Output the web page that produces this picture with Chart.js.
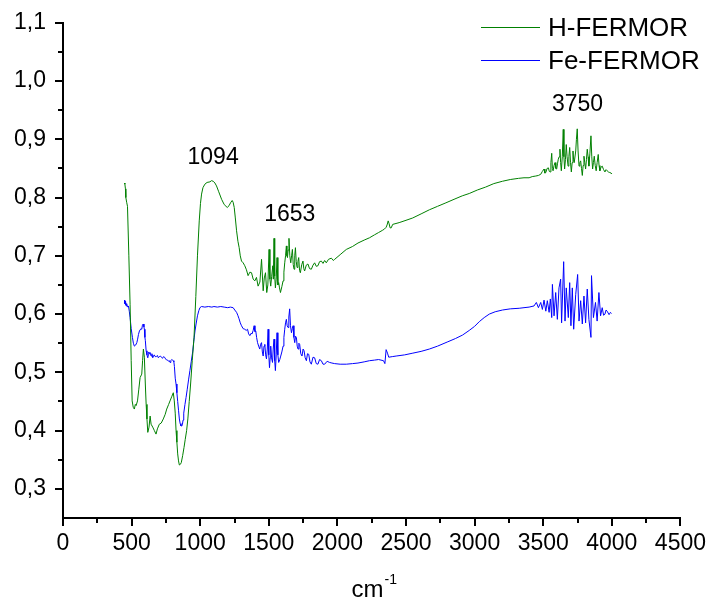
<!DOCTYPE html>
<html><head><meta charset="utf-8">
<script src="https://cdn.jsdelivr.net/npm/chart.js@4.4.1/dist/chart.umd.min.js"></script>
<style>html,body{margin:0;padding:0;background:#fff}#wrap{width:710px;height:604px}</style>
</head><body><div id="wrap"><canvas id="c" width="710" height="604"></canvas></div>
<script>
const seriesNames = ['H-FERMOR', 'Fe-FERMOR'];
const seriesColors = ['#008000', '#0000ff'];

// [wavenumber (cm-1), value]
const hFermor = [
[448,0.825],[451,0.823],[455,0.815],[458,0.800],[464,0.792],[470,0.785],[480,0.70],[489,0.617],[497,0.52],[504,0.451],[512,0.44],[520,0.437],[527,0.445],[533,0.443],[543,0.451],[552,0.47],[562,0.491],[574,0.497],[580,0.52],[586,0.54],[593,0.526],[600,0.48],[606,0.445],[612,0.42],[618,0.397],[627,0.406],[635,0.425],[642,0.411],[654,0.406],[666,0.40],[678,0.394],[688,0.403],[702,0.411],[716,0.413],[731,0.42],[745,0.428],[756,0.437],[770,0.445],[780,0.451],[792,0.458],[804,0.465],[811,0.451],[818,0.43],[824,0.40],[830,0.38],[836,0.36],[842,0.348],[848,0.341],[855,0.342],[862,0.345],[872,0.357],[882,0.371],[891,0.385],[901,0.40],[910,0.42],[920,0.45],[930,0.48],[942,0.52],[955,0.56],[968,0.63],[980,0.70],[993,0.76],[1002,0.79],[1010,0.806],[1020,0.817],[1034,0.823],[1050,0.826],[1071,0.827],[1082,0.829],[1095,0.828],[1107,0.825],[1119,0.82],[1135,0.81],[1156,0.797],[1175,0.788],[1197,0.783],[1210,0.786],[1221,0.791],[1233,0.795],[1240,0.792],[1248,0.783],[1256,0.765],[1265,0.743],[1275,0.725],[1284,0.714],[1292,0.70],[1301,0.691],[1313,0.688],
[1325,0.683],[1337,0.676],[1349,0.666],[1362,0.672],[1374,0.671],[1386,0.660],[1398,0.657],[1410,0.663],[1422,0.648],[1435,0.655],[1447,0.694],[1459,0.640],[1467,0.662],[1476,0.671],[1485,0.637],[1493,0.65],[1502,0.711],[1508,0.66],[1514,0.648],[1521,0.665],[1529,0.683],[1533,0.66],[1538,0.73],[1543,0.665],[1548,0.645],[1554,0.66],[1560,0.697],[1566,0.65],[1572,0.654],[1578,0.645],[1585,0.637],[1595,0.647],[1604,0.657],[1610,0.672],[1616,0.688],[1622,0.70],[1628,0.717],[1632,0.70],[1636,0.697],[1641,0.71],[1647,0.73],[1653,0.70],[1660,0.688],[1666,0.70],[1672,0.711],[1678,0.685],[1684,0.677],[1689,0.70],[1694,0.714],[1700,0.69],[1706,0.680],[1712,0.69],[1718,0.697],[1724,0.675],[1730,0.671],[1740,0.685],[1749,0.691],[1755,0.678],[1761,0.674],[1773,0.684],[1785,0.686],[1797,0.678],[1810,0.677],[1822,0.684],[1834,0.688],[1846,0.682],[1858,0.683],[1870,0.69],[1883,0.691],[1895,0.687],[1907,0.692],[1919,0.688],[1935,0.694],[1956,0.696],[1970,0.692],[1980,0.694],
[2020,0.702],[2065,0.711],[2110,0.716],[2150,0.722],[2195,0.727],[2234,0.731],[2270,0.736],[2300,0.740],[2330,0.744],[2343,0.746],[2355,0.749],[2362,0.753],[2370,0.76],[2377,0.755],[2384,0.748],[2392,0.748],[2403,0.754],[2450,0.757],[2500,0.761],[2549,0.765],[2610,0.772],[2670,0.779],[2730,0.785],[2791,0.791],[2850,0.797],[2910,0.803],[2961,0.807],[3020,0.813],[3080,0.818],[3140,0.824],[3203,0.828],[3260,0.831],[3320,0.833],[3360,0.834],[3397,0.834],[3420,0.836],[3446,0.837],[3465,0.838],[3482,0.840],[3494,0.845],[3506,0.849],[3512,0.842],[3519,0.843],[3528,0.85],[3538,0.851],[3544,0.845],[3550,0.844],[3556,0.86],[3562,0.876],[3567,0.85],[3572,0.846],[3579,0.855],[3586,0.860],[3592,0.85],[3598,0.849],[3604,0.858],[3610,0.866],[3616,0.87],[3622,0.883],[3627,0.86],[3632,0.846],[3639,0.87],[3646,0.917],[3651,0.87],[3656,0.849],[3662,0.865],[3668,0.891],[3674,0.87],[3681,0.854],[3687,0.87],[3693,0.886],[3699,0.86],[3705,0.844],[3711,0.86],[3717,0.880],[3721,0.865],[3726,0.860],[3737,0.88],[3742,0.90],[3748,0.918],[3754,0.88],[3761,0.854],[3767,0.86],[3773,0.863],[3779,0.85],[3785,0.838],[3791,0.855],[3797,0.871],[3803,0.86],[3809,0.849],[3815,0.865],[3821,0.883],[3827,0.87],[3833,0.854],[3840,0.875],[3848,0.906],[3854,0.87],[3860,0.849],[3866,0.86],[3872,0.871],[3879,0.855],[3886,0.846],[3893,0.86],[3901,0.874],[3907,0.855],[3913,0.846],[3921,0.852],[3930,0.854],[3940,0.848],[3950,0.844],[3958,0.848],[3966,0.846],[3975,0.844],[3985,0.843],[3995,0.842],[3998,0.841]
];

const feFermor = [
[448,0.624],[450,0.618],[452,0.622],[455,0.616],[457,0.621],[460,0.614],[464,0.618],[470,0.612],[477,0.614],[483,0.605],[489,0.594],[497,0.575],[506,0.56],[513,0.55],[520,0.545],[530,0.547],[538,0.551],[544,0.557],[550,0.565],[557,0.571],[568,0.575],[574,0.574],[579,0.581],[585,0.583],[590,0.578],[593,0.574],[597,0.56],[600,0.555],[606,0.537],[612,0.530],[618,0.525],[622,0.53],[625,0.535],[630,0.532],[635,0.534],[642,0.528],[648,0.532],[654,0.525],[660,0.528],[665,0.530],[672,0.527],[680,0.527],[688,0.529],[695,0.525],[702,0.527],[710,0.528],[718,0.526],[725,0.524],[733,0.527],[740,0.526],[748,0.523],[756,0.521],[763,0.521],[770,0.519],[775,0.52],[780,0.517],[786,0.52],[792,0.522],[798,0.521],[804,0.520],[808,0.518],[812,0.51],[818,0.49],[824,0.48],[830,0.465],[836,0.45],[842,0.435],[848,0.42],[854,0.412],[860,0.408],[866,0.408],[870,0.41],[875,0.418],[880,0.43],[889,0.445],[897,0.457],[905,0.47],[915,0.487],[925,0.503],[935,0.519],[945,0.535],[953,0.553],[962,0.571],[970,0.583],[980,0.597],[990,0.606],[998,0.611],[1010,0.613],[1034,0.612],[1060,0.613],[1085,0.612],[1100,0.613],[1125,0.612],[1150,0.613],[1175,0.612],[1200,0.611],[1220,0.612],[1240,0.611],[1252,0.607],[1265,0.603],[1274,0.598],[1283,0.592],[1292,0.585],[1301,0.58],[1313,0.575],
[1325,0.574],[1335,0.572],[1345,0.574],[1353,0.566],[1362,0.563],[1370,0.567],[1378,0.566],[1386,0.572],[1393,0.580],[1399,0.57],[1405,0.571],[1411,0.56],[1418,0.551],[1426,0.545],[1434,0.540],[1440,0.548],[1447,0.551],[1453,0.535],[1459,0.528],[1465,0.545],[1471,0.548],[1477,0.53],[1483,0.523],[1489,0.54],[1495,0.574],[1500,0.53],[1505,0.508],[1510,0.525],[1514,0.545],[1520,0.525],[1527,0.517],[1532,0.54],[1538,0.557],[1543,0.52],[1548,0.503],[1554,0.53],[1560,0.568],[1566,0.53],[1572,0.517],[1580,0.522],[1587,0.528],[1595,0.535],[1604,0.545],[1610,0.56],[1616,0.574],[1622,0.585],[1628,0.591],[1634,0.58],[1640,0.577],[1646,0.595],[1652,0.609],[1658,0.58],[1665,0.568],[1671,0.575],[1677,0.580],[1683,0.56],[1689,0.551],[1695,0.562],[1701,0.560],[1707,0.545],[1713,0.540],[1719,0.55],[1725,0.548],[1733,0.532],[1742,0.528],[1750,0.54],[1757,0.537],[1765,0.525],[1774,0.520],[1782,0.532],[1791,0.531],[1800,0.518],[1810,0.514],[1822,0.526],[1834,0.525],[1846,0.515],[1858,0.514],[1870,0.522],[1883,0.520],[1895,0.514],[1907,0.514],[1925,0.519],[1943,0.517],[1960,0.516],[1980,0.515],
[2020,0.514],[2065,0.514],[2110,0.515],[2150,0.516],[2195,0.518],[2234,0.520],[2270,0.521],[2300,0.522],[2336,0.520],[2346,0.515],[2355,0.539],[2365,0.533],[2374,0.526],[2400,0.527],[2428,0.528],[2490,0.530],[2550,0.533],[2610,0.536],[2670,0.540],[2730,0.545],[2800,0.552],[2860,0.558],[2912,0.564],[2961,0.572],[3000,0.579],[3034,0.587],[3070,0.594],[3107,0.600],[3150,0.604],[3203,0.607],[3260,0.609],[3325,0.610],[3360,0.611],[3397,0.612],[3433,0.614],[3450,0.620],[3465,0.611],[3482,0.620],[3494,0.608],[3506,0.624],[3519,0.605],[3530,0.623],[3543,0.603],[3552,0.626],[3562,0.594],[3567,0.651],[3579,0.597],[3591,0.637],[3603,0.591],[3615,0.645],[3627,0.660],[3634,0.585],[3649,0.690],[3659,0.588],[3668,0.645],[3683,0.594],[3693,0.654],[3702,0.580],[3712,0.645],[3722,0.574],[3737,0.634],[3751,0.668],[3761,0.588],[3773,0.623],[3785,0.583],[3797,0.631],[3809,0.585],[3821,0.643],[3833,0.591],[3848,0.560],[3852,0.666],[3866,0.594],[3881,0.620],[3893,0.588],[3906,0.637],[3918,0.597],[3930,0.611],[3940,0.598],[3950,0.600],[3958,0.607],[3966,0.605],[3980,0.599],[3990,0.603],[3998,0.601]
];

const xTicks = [0, 500, 1000, 1500, 2000, 2500, 3000, 3500, 4000, 4500];
const xMinorTicks = [250, 750, 1250, 1750, 2250, 2750, 3250, 3750, 4250];
const yTicks = [0.3, 0.4, 0.5, 0.6, 0.7, 0.8, 0.9, 1.0, 1.1];
const yMinorTicks = [0.35, 0.45, 0.55, 0.65, 0.75, 0.85, 0.95, 1.05];
const peakLabels = ['1094', '1653', '3750'];
const peakX = [1094, 1653, 3750];
const peakY = [0.858, 0.760, 0.948];
const xTitle = 'cm';
const xTitleSup = '-1';

const FONT = '"Liberation Sans", Arial, Helvetica, sans-serif';

const overlay = {
  id: 'overlay',
  afterDraw(chart) {
    const ctx = chart.ctx;
    const xs = chart.scales.x, ys = chart.scales.y;
    const area = chart.chartArea;
    ctx.save();
    // minor ticks
    ctx.strokeStyle = '#000';
    ctx.lineWidth = 2;
    ctx.beginPath();
    xMinorTicks.forEach(v => {
      const px = Math.round(xs.getPixelForValue(v));
      ctx.moveTo(px, area.bottom);
      ctx.lineTo(px, area.bottom + 5);
    });
    yMinorTicks.forEach(v => {
      const py = Math.round(ys.getPixelForValue(v));
      ctx.moveTo(area.left, py);
      ctx.lineTo(area.left - 5, py);
    });
    ctx.stroke();

    // peak annotations
    ctx.fillStyle = '#000';
    ctx.font = '23px ' + FONT;
    ctx.textAlign = 'center';
    ctx.textBaseline = 'alphabetic';
    peakLabels.forEach((t, i) => {
      ctx.fillText(t, xs.getPixelForValue(peakX[i]), ys.getPixelForValue(peakY[i]));
    });

    // legend
    ctx.textAlign = 'left';
    ctx.textBaseline = 'middle';
    ctx.font = '26px ' + FONT;
    chart.data.datasets.forEach((ds, i) => {
      const y = 27 + i * 33;
      ctx.strokeStyle = ds.borderColor;
      ctx.lineWidth = 1;
      ctx.beginPath();
      ctx.moveTo(481, y + 0.5);
      ctx.lineTo(540, y + 0.5);
      ctx.stroke();
      ctx.fillStyle = '#000';
      ctx.fillText(ds.label, 548, y + 2);
    });

    // x axis title with superscript
    ctx.textBaseline = 'alphabetic';
    ctx.font = '24px ' + FONT;
    const w1 = ctx.measureText(xTitle).width;
    ctx.font = '14px ' + FONT;
    const w2 = ctx.measureText(xTitleSup).width;
    const cx = (area.left + area.right) / 2 + 2;
    const sx = cx - (w1 + w2) / 2;
    ctx.font = '24px ' + FONT;
    ctx.fillText(xTitle, sx, 597);
    ctx.font = '14px ' + FONT;
    ctx.fillText(xTitleSup, sx + w1 + 1, 584);
    ctx.restore();
  }
};

new Chart(document.getElementById('c').getContext('2d'), {
  type: 'line',
  data: {
    datasets: [
      { label: seriesNames[0], data: hFermor.map(p => ({x: p[0], y: p[1]})), borderColor: seriesColors[0], backgroundColor: seriesColors[0], borderWidth: 1, pointRadius: 0, fill: false, tension: 0 },
      { label: seriesNames[1], data: feFermor.map(p => ({x: p[0], y: p[1]})), borderColor: seriesColors[1], backgroundColor: seriesColors[1], borderWidth: 1, pointRadius: 0, fill: false, tension: 0 }
    ]
  },
  options: {
    responsive: false,
    animation: false,
    devicePixelRatio: 1,
    layout: { padding: { top: 21, right: 28, left: 0, bottom: 0 } },
    plugins: { legend: { display: false }, tooltip: { enabled: false }, title: { display: false } },
    scales: {
      x: {
        type: 'linear', min: 0, max: 4500,
        afterBuildTicks: s => { s.ticks = xTicks.map(v => ({ value: v })); },
        afterFit: s => { s.height = 86; },
        ticks: { color: '#000', font: { family: FONT, size: 23 }, padding: 4, maxRotation: 0, autoSkip: false, callback: v => String(v) },
        grid: { drawOnChartArea: false, drawTicks: true, tickLength: 8, color: '#000', lineWidth: 2 },
        border: { display: true, color: '#000', width: 2 }
      },
      y: {
        type: 'linear', min: 0.25, max: 1.1,
        afterBuildTicks: s => { s.ticks = yTicks.map(v => ({ value: v })); },
        afterFit: s => { s.width = 63; },
        ticks: { color: '#000', font: { family: FONT, size: 23 }, padding: 9, autoSkip: false, callback: v => Number(v).toFixed(1).replace('.', ',') },
        grid: { drawOnChartArea: false, drawTicks: true, tickLength: 8, color: '#000', lineWidth: 2 },
        border: { display: true, color: '#000', width: 2 }
      }
    }
  },
  plugins: [overlay]
});
</script>
</body></html>
